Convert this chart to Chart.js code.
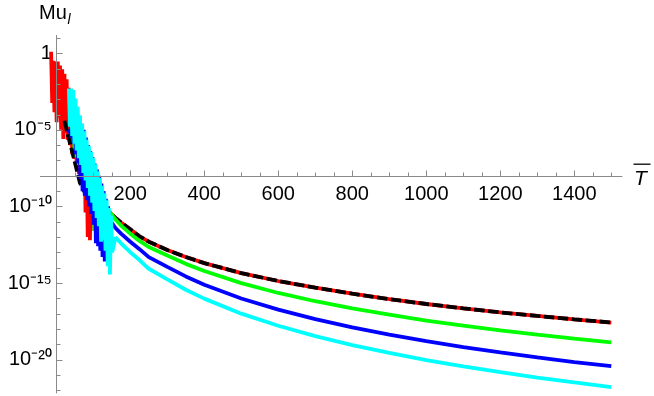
<!DOCTYPE html>
<html><head><meta charset="utf-8">
<script src="https://cdn.jsdelivr.net/npm/chart.js@4"></script>
<style>html,body{margin:0;padding:0;background:#fff;} canvas{display:block;}</style>
</head><body>
<canvas id="c" width="654" height="396" style="width:654px;height:396px"></canvas>
<script>
// ---- tick labels ----
const xTickValues = [200, 400, 600, 800, 1000, 1200, 1400];
const yTickExponents = [0, -5, -10, -15, -20];

// ---- noisy early part (T, log10 of Mu_l) ----
const redT = [-14,-11,-8,-5,-2,1,4,7,10,13,16,19,22,25,28,31,34,37,40,43,46,49,52,55,58,61,64,67,70,73,76,79,82,85,88,91,94,97,100,103,106,109,112,115,118,121,124,127,130];
const redExp = [0.1,-3.25,-0.5,-3.85,-0.55,-4.5,-0.55,-4.2,-0.8,-5.0,-1.05,-5.6,-1.35,-5.2,-1.7,-5.65,-2.25,-6.0,-2.8,-6.6,-3.3,-6.9,-3.85,-7.4,-4.4,-7.9,-4.9,-8.2,-5.45,-9.0,-6.0,-10.4,-6.5,-12.0,-7.05,-12.2,-7.6,-11.2,-8.1,-11.6,-8.65,-10.9,-9.2,-11.3,-9.7,-10.8,-10.1,-10.6,-10.3];

const blackT = [22,30,40,50,64,75,90,110,130];
const blackExp = [-4.4,-5.2,-6.15,-7.1,-8.47,-9.0,-9.5,-9.95,-10.2];

const greenT = [40,43,46,49,52,55,58,61,64,67,70,73,76,79,82,85,88,91,94,97,100,103,106,109,112,115,118,121,124,127,130,133,136,139,142];
const greenExp = [-3.0,-5.5,-3.0,-6.2,-3.5,-6.8,-4.1,-7.3,-4.6,-7.9,-5.2,-8.4,-5.7,-8.8,-6.2,-9.2,-6.6,-9.8,-7.0,-10.3,-7.4,-11.6,-7.8,-12.0,-8.3,-12.2,-8.7,-12.6,-9.2,-13.0,-9.7,-12.3,-10.1,-11.4,-10.3];

const blueT = [32,35,38,41,44,47,50,53,56,59,62,65,68,71,74,77,80,83,86,89,92,95,98,101,104,107,110,113,116,119,122,125,128,131,134,137,140,143];
const blueExp = [-5.0,-5.2,-5.0,-5.5,-3.5,-5.9,-3.1,-6.6,-3.6,-7.2,-4.1,-8.2,-4.6,-9.0,-5.0,-9.3,-5.5,-9.6,-6.0,-10.0,-6.4,-10.5,-6.8,-11.2,-7.2,-12.4,-7.6,-12.6,-8.0,-12.9,-8.5,-13.3,-9.0,-13.6,-9.5,-12.8,-10.0,-13.0];

const cyanT = [34,37,40,43,46,49,52,55,58,61,64,67,70,73,76,79,82,85,88,91,94,97,100,103,106,109,112,115,118,121,124,127,130,133,136,139,142,145,148,151];
const cyanExp = [-2.3,-4.8,-2.3,-5.4,-2.4,-5.9,-2.95,-6.35,-3.5,-6.85,-4.05,-7.3,-4.6,-7.82,-5.1,-8.3,-5.65,-8.8,-6.05,-9.3,-6.45,-9.75,-6.85,-10.3,-7.25,-10.75,-7.7,-11.3,-8.15,-12.3,-8.65,-12.17,-9.15,-12.9,-9.6,-13.9,-10.1,-14.45,-10.6,-13.0];

// ---- smooth tails (T, log10 of Mu_l) ----
const tailT = [145,160,175,200,225,250,300,350,400,500,600,700,800,900,1000,1100,1200,1300,1400,1500];
const redTail   = [-10.4,-10.75,-11.05,-11.5,-11.95,-12.3,-12.85,-13.3,-13.7,-14.35,-14.87,-15.3,-15.7,-16.05,-16.37,-16.65,-16.92,-17.15,-17.37,-17.58];
const blackTail = [-10.4,-10.75,-11.05,-11.5,-11.95,-12.3,-12.85,-13.3,-13.7,-14.35,-14.87,-15.3,-15.7,-16.05,-16.37,-16.65,-16.92,-17.15,-17.37,-17.58];
const greenTail = [-10.4,-10.85,-11.25,-11.78,-12.25,-12.65,-13.21,-13.75,-14.22,-15.01,-15.65,-16.19,-16.66,-17.07,-17.45,-17.78,-18.09,-18.37,-18.63,-18.87];
const blueTail  = [-10.9,-11.41,-11.78,-12.31,-12.79,-13.31,-13.95,-14.57,-15.11,-16.01,-16.74,-17.36,-17.9,-18.37,-18.8,-19.18,-19.53,-19.86,-20.16,-20.43];
const cyanTail  = [-11.6,-12.02,-12.41,-12.99,-13.5,-14.07,-14.76,-15.44,-16.02,-17.0,-17.79,-18.47,-19.05,-19.56,-20.03,-20.44,-20.82,-21.17,-21.49,-21.8];

const pts = (ts, es) => ts.map((t, i) => ({x: t, y: Math.pow(10, es[i])}));
const series = (ts, es, tail) => {
  const head = pts(ts, es);
  const last = ts[ts.length - 1];
  return head.concat(pts(tailT, tail).filter(p => p.x > last));
};

const FONT = "'Liberation Sans', Arial, Helvetica, sans-serif";
const sup = {'-':'\u207B','0':'\u2070','1':'\u00B9','2':'\u00B2','3':'\u00B3','4':'\u2074','5':'\u2075','6':'\u2076','7':'\u2077','8':'\u2078','9':'\u2079'};
const toSup = s => String(s).split('').map(c => sup[c] || c).join('');

const common = {pointRadius: 0, borderWidth: 3.8, tension: 0, fill: false, borderJoinStyle: 'bevel', borderCapStyle: 'butt'};

const axesPlugin = {
  id: 'mmaAxes',
  afterDatasetsDraw(chart) {
    const {ctx, scales: {x, y}} = chart;
    const x0 = Math.round(x.getPixelForValue(0)) + 0.5;
    const y0 = Math.round(y.getPixelForValue(1e-8)) + 0.5;
    ctx.save();
    ctx.strokeStyle = '#8a8a8a';
    ctx.lineWidth = 1;
    ctx.beginPath();
    ctx.moveTo(x.left, y0); ctx.lineTo(x.right, y0);
    ctx.moveTo(x0, y.top); ctx.lineTo(x0, y.bottom);
    for (let t = 50; t <= 1500; t += 50) {
      const px = Math.round(x.getPixelForValue(t)) + 0.5;
      const len = (t % 200 === 0) ? 6 : 4;
      ctx.moveTo(px, y0); ctx.lineTo(px, y0 - len);
    }
    for (let e = 1; e >= -22; e--) {
      const py = Math.round(y.getPixelForValue(Math.pow(10, e))) + 0.5;
      const len = (e % 5 === 0) ? 6 : 4;
      ctx.moveTo(x0, py); ctx.lineTo(x0 + len, py);
    }
    ctx.stroke();
    // axis labels
    ctx.fillStyle = '#000';
    ctx.textBaseline = 'alphabetic';
    ctx.textAlign = 'left';
    ctx.font = '20px ' + FONT;
    ctx.fillText('Mu', 39, 18.5);
    ctx.font = 'italic 14px ' + FONT;
    ctx.fillText('l', 67.5, 23.5);
    ctx.font = 'italic 21px ' + FONT;
    ctx.fillText('T', 634, 185);
    ctx.beginPath();
    ctx.lineWidth = 1.3;
    ctx.strokeStyle = '#000';
    ctx.moveTo(633.5, 164.2); ctx.lineTo(650.5, 164.2);
    ctx.stroke();
    ctx.restore();
  }
};

new Chart(document.getElementById('c'), {
  type: 'line',
  data: {
    datasets: [
      Object.assign({label: 'red', data: series(redT, redExp, redTail), borderColor: '#ff0000', order: 4}, common),
      Object.assign({label: 'black', data: series(blackT, blackExp, blackTail), borderColor: '#000000', borderDash: [10.5, 3.5], order: 3}, common),
      Object.assign({label: 'green', data: series(greenT, greenExp, greenTail), borderColor: '#00ff00', order: 2}, common),
      Object.assign({label: 'blue', data: series(blueT, blueExp, blueTail), borderColor: '#0000ff', order: 1}, common),
      Object.assign({label: 'cyan', data: series(cyanT, cyanExp, cyanTail), borderColor: '#00ffff', order: 0}, common)
    ]
  },
  options: {
    responsive: false,
    animation: false,
    devicePixelRatio: 1,
    layout: {padding: {left: 40, top: 35, right: 31.6, bottom: 2.7}},
    plugins: {legend: {display: false}, tooltip: {enabled: false}, title: {display: false}},
    scales: {
      x: {
        type: 'linear',
        min: -44, max: 1530,
        bounds: 'data',
        position: {y: 1e-8},
        grid: {display: false, drawTicks: false},
        border: {display: false},
        ticks: {
          autoSkip: false, maxRotation: 0, minRotation: 0, padding: 7,
          color: '#000', font: {family: FONT, size: 20},
          callback: v => String(v)
        },
        afterBuildTicks: s => { s.ticks = xTickValues.map(v => ({value: v})); },
        afterFit: s => { s.paddingLeft = 0; s.paddingRight = 0; s.paddingTop = 0; s.paddingBottom = 0; }
      },
      y: {
        type: 'logarithmic',
        min: Math.pow(10, -22.2), max: Math.pow(10, 1.19),
        bounds: 'data',
        position: {x: -12},
        grid: {display: false, drawTicks: false},
        border: {display: false},
        ticks: {
          autoSkip: false, padding: 0,
          color: '#000', font: {family: FONT, size: 20},
          callback: v => {
            const e = Math.round(Math.log10(v));
            return e === 0 ? '1' : '10' + toSup(e);
          }
        },
        afterBuildTicks: s => { s.ticks = yTickExponents.map(e => ({value: Math.pow(10, e)})); },
        afterFit: s => { s.paddingLeft = 0; s.paddingRight = 0; s.paddingTop = 0; s.paddingBottom = 0; }
      }
    }
  },
  plugins: [axesPlugin]
});
</script>
</body></html>
